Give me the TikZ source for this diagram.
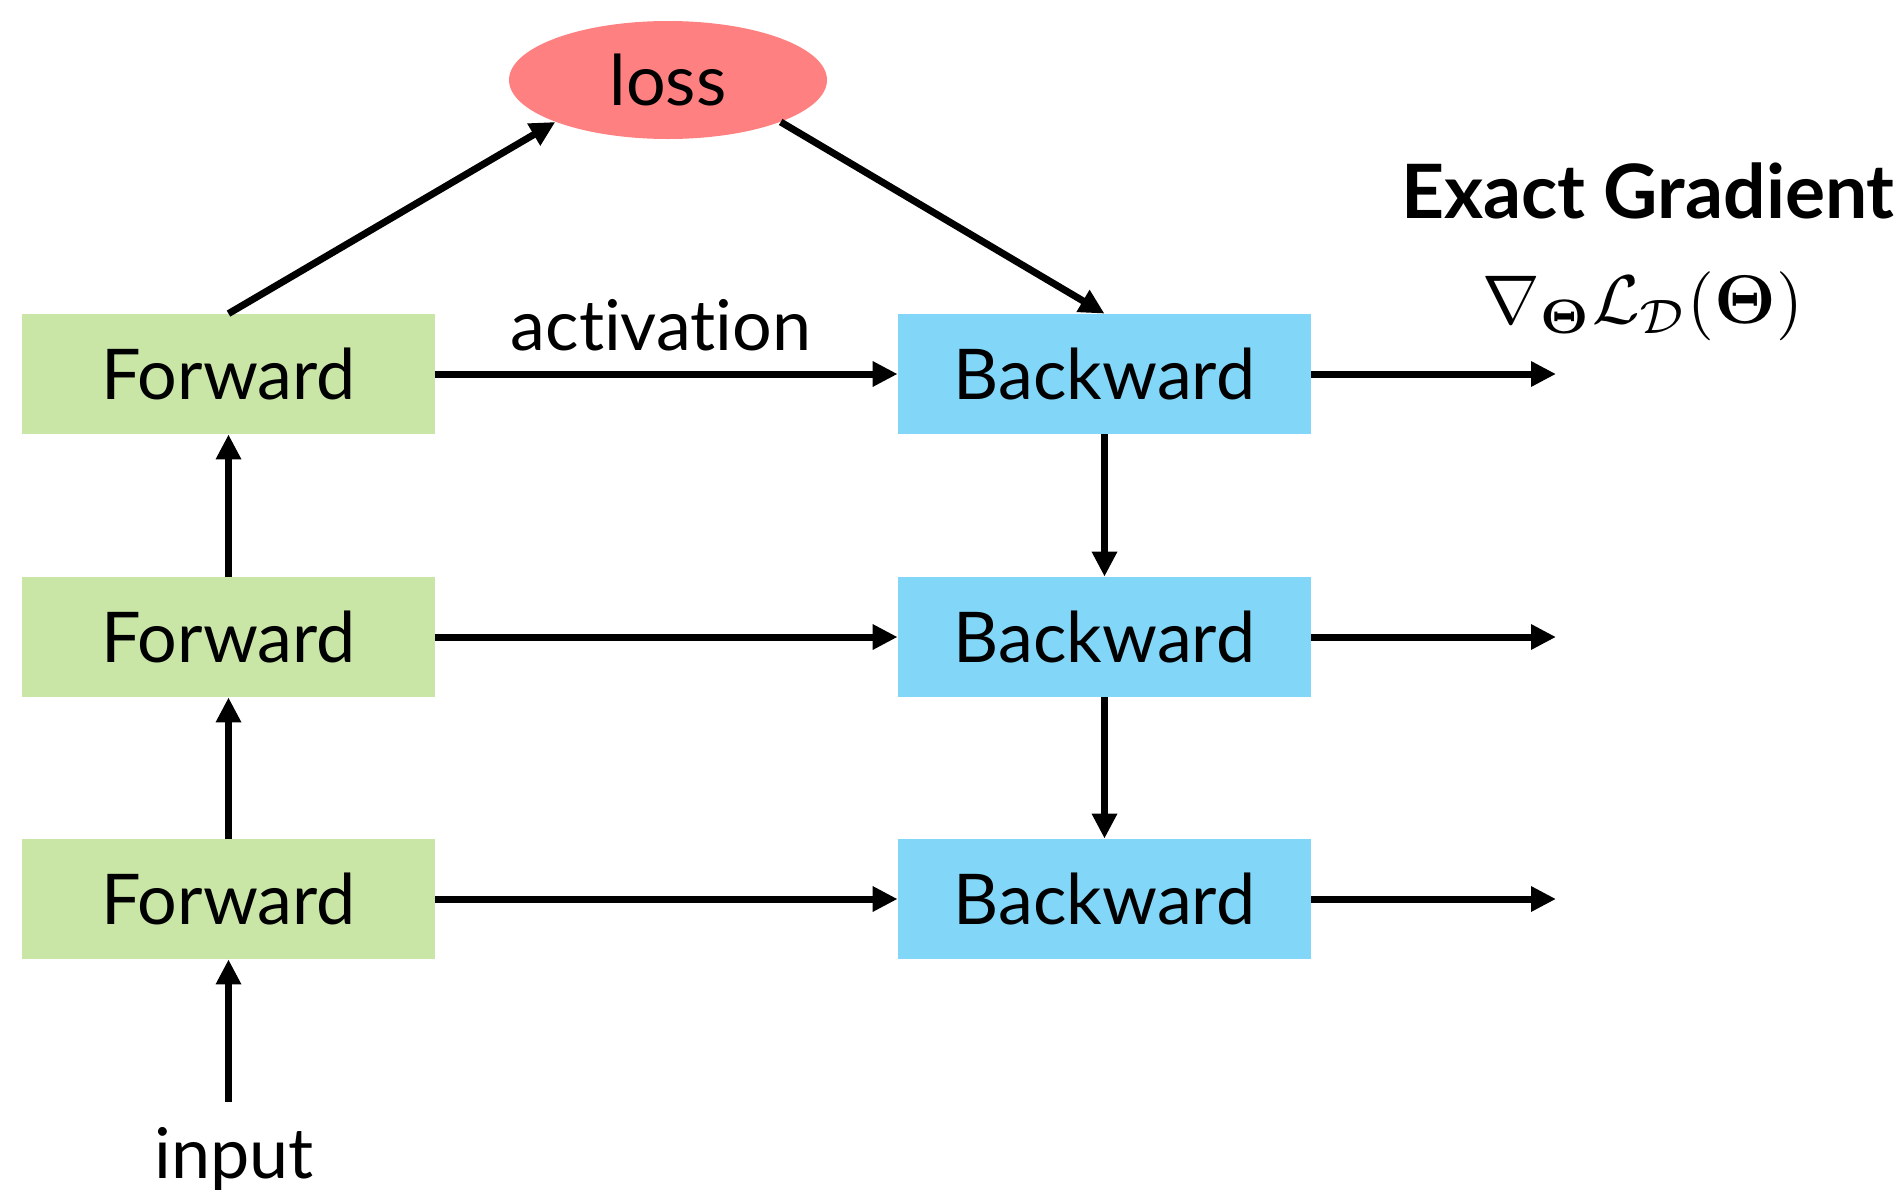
\documentclass[tikz,border=0pt]{standalone}
\usepackage{amsmath}
\usepackage{graphicx}
\usepackage[no-math]{fontspec}
\setmainfont{Lato}[Ligatures=CommonOff]
\usetikzlibrary{arrows.meta,shapes.geometric}
\definecolor{fwdgreen}{HTML}{C9E6A7}
\definecolor{bwdblue}{HTML}{82D6F7}
\definecolor{lossred}{HTML}{FF8080}
\tikzset{
  fwdbox/.style={rectangle, fill=fwdgreen, minimum width=206.5pt, minimum height=60pt, inner sep=0pt,
    font=\fontsize{35}{40}\selectfont},
  bwdbox/.style={rectangle, fill=bwdblue, minimum width=206.5pt, minimum height=60pt, inner sep=0pt,
    font=\fontsize{35}{40}\selectfont},
  flow/.style={line width=3.5pt, -{Triangle[length=12.5pt,width=12pt]}},
  lbl/.style={inner sep=0pt, font=\fontsize{35}{40}\selectfont},
}
\begin{document}
\begin{tikzpicture}[x=0.5pt, y=-0.5pt]
  \useasboundingbox (0,0) rectangle (1903,1195);
  % forward column
  \node[fwdbox] (F1) at (228.5,374) {Forward};
  \node[fwdbox] (F2) at (228.5,637) {Forward};
  \node[fwdbox] (F3) at (228.5,899) {Forward};
  % backward column
  \node[bwdbox] (B1) at (1104.5,374) {Backward};
  \node[bwdbox] (B2) at (1104.5,637) {Backward};
  \node[bwdbox] (B3) at (1104.5,899) {Backward};
  % loss
  \node[ellipse, fill=lossred, minimum width=159pt, minimum height=59pt, inner sep=0pt,
    font=\fontsize{35}{40}\selectfont] (loss) at (668,80) {loss};
  % labels
  \node[lbl] (act) at (661,325) {activation};
  \node[lbl] (inp) at (234,1159) {input};
  \node[inner sep=0pt, font=\fontsize{37.5}{42}\selectfont\bfseries] (exact) at (1648,191) {Exact Gradient};
  \node[inner sep=0pt] (grad) at (1643,306)
    {\scalebox{3.45}{$\nabla_{\mathbf{\Theta}}\mathcal{L}_{\mathcal{D}}(\mathbf{\Theta})$}};
  % free ends
  \coordinate (in0) at (228.5,1102);
  \coordinate (o1) at (1556,374);
  \coordinate (o2) at (1556,637);
  \coordinate (o3) at (1556,899);
  % connectors
  \draw[flow] (in0) -- (F3.south);
  \draw[flow] (F3.north) -- (F2.south);
  \draw[flow] (F2.north) -- (F1.south);
  \draw[flow] (F1.north) -- (loss.south west);
  \draw[flow] (loss.south east) -- (B1.north);
  \draw[flow] (F1.east) -- (B1.west);
  \draw[flow] (F2.east) -- (B2.west);
  \draw[flow] (F3.east) -- (B3.west);
  \draw[flow] (B1.south) -- (B2.north);
  \draw[flow] (B2.south) -- (B3.north);
  \draw[flow] (B1.east) -- (o1);
  \draw[flow] (B2.east) -- (o2);
  \draw[flow] (B3.east) -- (o3);
\end{tikzpicture}
\end{document}
